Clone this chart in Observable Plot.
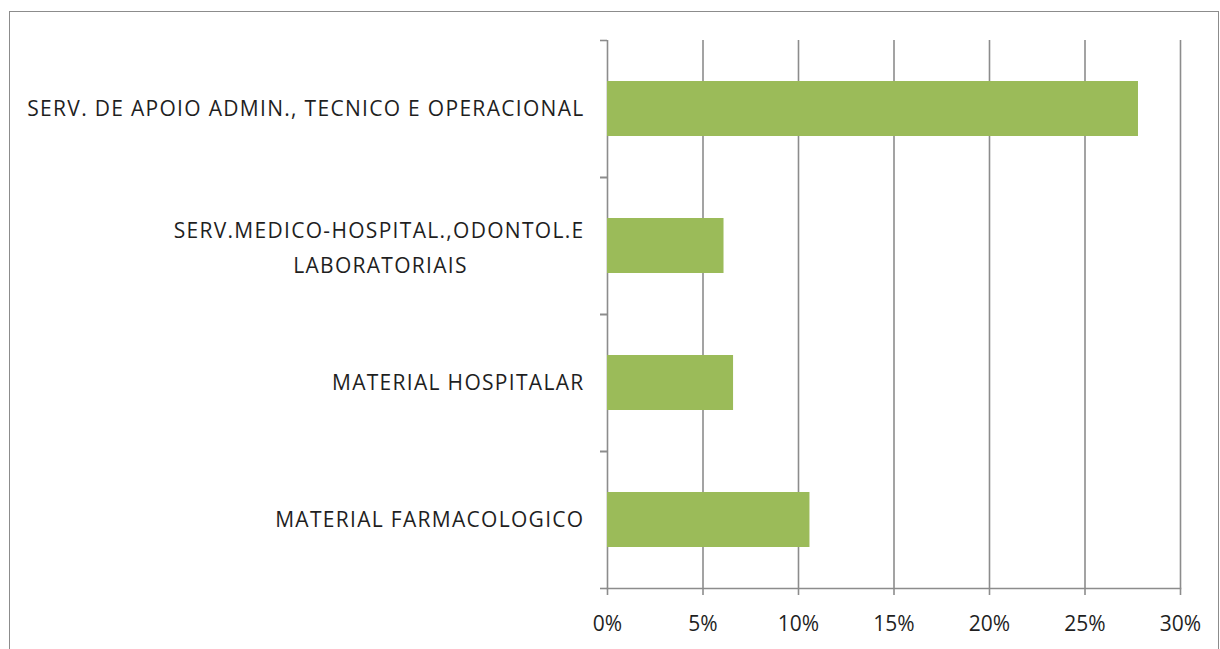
<!DOCTYPE html>
<html>
<head>
<meta charset="utf-8">
<script src="https://cdn.jsdelivr.net/npm/d3@7"></script>
<script src="https://cdn.jsdelivr.net/npm/@observablehq/plot@0.6"></script>
<style>
  html, body { margin: 0; padding: 0; background: #fff; }
  #wrap { position: relative; width: 1220px; height: 649px; overflow: hidden; }
  #border { position: absolute; left: 9px; top: 11px; width: 1210px; height: 700px; border: 1.5px solid #8c8c8c; box-sizing: border-box; }
  #chart { position: absolute; left: 0; top: 0; }
  #chart svg g[aria-label="text"] text { letter-spacing: 1.3px; }
</style>
</head>
<body>
<div id="wrap"><div id="border"></div><div id="chart"></div></div>
<script>
const categories = [
  "SERV. DE APOIO ADMIN., TECNICO E OPERACIONAL",
  "SERV.MEDICO-HOSPITAL.,ODONTOL.E LABORATORIAIS",
  "MATERIAL HOSPITALAR",
  "MATERIAL FARMACOLOGICO"
];
const values = [0.278, 0.061, 0.066, 0.106];
const labelLine1 = [
  "SERV. DE APOIO ADMIN., TECNICO E OPERACIONAL",
  "SERV.MEDICO-HOSPITAL.,ODONTOL.E",
  "MATERIAL HOSPITALAR",
  "MATERIAL FARMACOLOGICO"
];
const labelLine2 = ["", "LABORATORIAIS", "", ""];
const xTicks = [0, 0.05, 0.10, 0.15, 0.20, 0.25, 0.30];

const rows = categories.map((c, i) => ({c, v: values[i], l1: labelLine1[i], l2: labelLine2[i]}));
const single = rows.filter(d => !d.l2);
const double = rows.filter(d => d.l2);

const W = 1220, H = 649;
const mT = 40, mB = 61, mL = 607, mR = 40;
const step = (H - mT - mB) / categories.length;
const FONT = "Open Sans, sans-serif";
const FS = 21;
const gray = "#8c8c8c";
const txt = "#1f1f1f";

const plot = Plot.plot({
  width: W, height: H,
  marginTop: mT, marginBottom: mB, marginLeft: mL, marginRight: mR,
  style: {fontFamily: FONT, fontSize: FS + "px", color: txt, background: "transparent"},
  x: {domain: [0, 0.30]},
  y: {domain: categories, paddingInner: 0.6, paddingOuter: 0.3},
  marks: [
    Plot.gridX(xTicks, {stroke: gray, strokeOpacity: 1, strokeWidth: 1.6}),
    Plot.barX(rows, {x: "v", y: "c", fill: "#9BBB59"}),
    Plot.frame({anchor: "bottom", stroke: gray, strokeWidth: 1.6}),
    Plot.axisX(xTicks, {tickSize: 7, tickPadding: 21, tickFormat: d3.format(".0%"), stroke: gray, strokeWidth: 1.6, fill: txt, fontSize: FS, label: null}),
    Plot.axisY({tickSize: 7, tickFormat: () => "", stroke: gray, strokeWidth: 1.6, dy: step / 2, label: null}),
    Plot.axisY({tickSize: 7, tickFormat: () => "", stroke: gray, strokeWidth: 1.6, dy: -step / 2, label: null}),
    Plot.text(single, {y: "c", text: "l1", frameAnchor: "left", dx: -23, textAnchor: "end", fill: txt, fontSize: FS}),
    Plot.text(double, {y: "c", text: "l1", frameAnchor: "left", dx: -23, dy: -15, textAnchor: "end", fill: txt, fontSize: FS}),
    Plot.text(double, {y: "c", text: "l2", frameAnchor: "left", dx: -227, dy: 20, textAnchor: "middle", fill: txt, fontSize: FS})
  ]
});
document.getElementById("chart").appendChild(plot);
</script>
</body>
</html>
